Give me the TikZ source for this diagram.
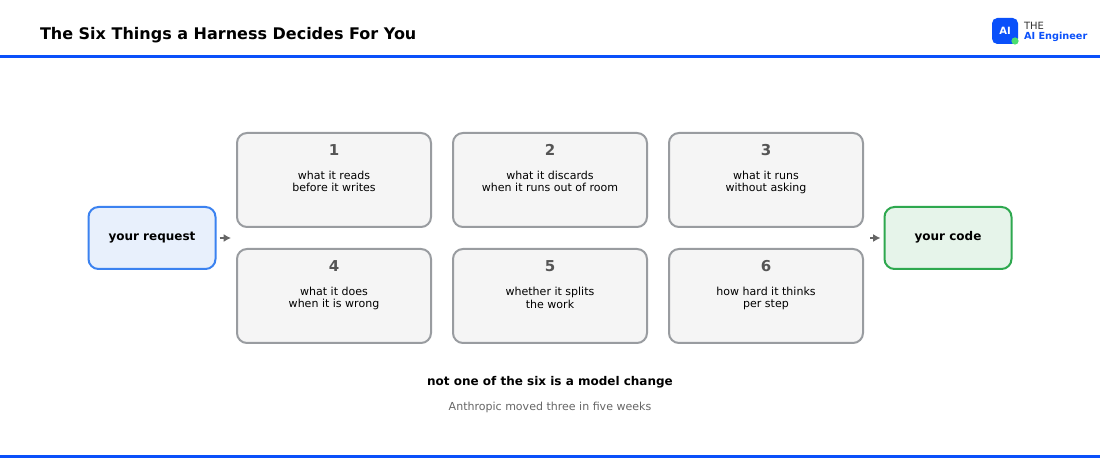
\documentclass[tikz,border=0pt]{standalone}
\usepackage{fontspec}
\setmainfont{DejaVu Sans}
\usetikzlibrary{arrows.meta}
\definecolor{brand}{HTML}{0A50FA}
\definecolor{reqedge}{HTML}{3B82F0}
\definecolor{reqfill}{HTML}{E8F0FC}
\definecolor{codeedge}{HTML}{2EA84F}
\definecolor{codefill}{HTML}{E6F4EA}
\definecolor{boxedge}{HTML}{999CA0}
\definecolor{boxfill}{HTML}{F5F5F5}
\definecolor{numcol}{HTML}{555555}
\definecolor{subcol}{HTML}{666666}
\definecolor{dotgreen}{HTML}{4ADE70}
\tikzset{
  x=0.75pt,y=-0.75pt,
  px/.style={inner sep=0pt,outer sep=0pt},
  card/.style={px,draw=boxedge,fill=boxfill,line width=1.5pt,rounded corners=7.5pt,minimum width=145.5pt,minimum height=70.5pt},
  endbox/.style={px,line width=1.5pt,rounded corners=7.5pt,minimum width=95.25pt,minimum height=46.5pt},
  numlabel/.style={px,anchor=base,text=numcol,font=\bfseries\fontsize{11.25}{13}\selectfont},
  linelabel/.style={px,anchor=base,text=black,font=\fontsize{8.27}{10}\selectfont},
  boldlabel/.style={px,anchor=base,text=black,font=\bfseries\fontsize{9}{11}\selectfont},
  flow/.style={draw=subcol,line width=1.5pt,-{Latex[length=5.5pt,width=6pt]}},
  rulebar/.style={draw=none,fill=brand}
}
\begin{document}
\begin{tikzpicture}
\useasboundingbox (0,0) rectangle (1100,470);
\fill[white] (0,0) rectangle (1100,470);
\fill[rulebar] (0,55) rectangle (1100,58);
\fill[rulebar] (0,455) rectangle (1100,458);
\node[px,anchor=base west,font=\bfseries\fontsize{12}{15}\selectfont] (title) at (40,39.7) {The Six Things a Harness Decides For You};
\node[px,fill=brand,rounded corners=4pt,minimum width=19.5pt,minimum height=19.5pt,text=white,font=\bfseries\fontsize{7.5}{9}\selectfont] (logo) at (1005,31) {AI};
\fill[dotgreen] (1015,41) circle (3.6);
\node[px,anchor=base west,text=black!80,font=\fontsize{7.5}{10}\selectfont] (the) at (1024,30) {THE};
\node[px,anchor=base west,text=brand,font=\bfseries\fontsize{7.3}{10}\selectfont] (brandname) at (1024,40) {AI Engineer};

\node[endbox,draw=reqedge,fill=reqfill] (req) at (152,238) {};
\node[boldlabel] (reqt) at (152,240.5) {your request};
\node[endbox,draw=codeedge,fill=codefill] (code) at (948,238) {};
\node[boldlabel] (codet) at (948,240.5) {your code};
\coordinate (inend) at (231,238);
\coordinate (outstart) at (870,238);
\draw[flow,shorten <=3pt] (req.east) -- (inend);
\draw[flow,shorten >=3pt] (outstart) -- (code.west);

\node[card] (c1) at (334,180) {};
\node[card] (c2) at (550,180) {};
\node[card] (c3) at (766,180) {};
\node[card] (c4) at (334,296) {};
\node[card] (c5) at (550,296) {};
\node[card] (c6) at (766,296) {};

\node[numlabel] (n1) at (334,155.5) {1};
\node[numlabel] (n2) at (550,155.5) {2};
\node[numlabel] (n3) at (766,155.5) {3};
\node[numlabel] (n4) at (334,271.5) {4};
\node[numlabel] (n5) at (550,271.5) {5};
\node[numlabel] (n6) at (766,271.5) {6};

\node[linelabel] (t1a) at (334,179.8) {what it reads};
\node[linelabel] (t1b) at (334,191.8) {before it writes};
\node[linelabel] (t2a) at (550,179.8) {what it discards};
\node[linelabel] (t2b) at (550,191.8) {when it runs out of room};
\node[linelabel] (t3a) at (766,179.8) {what it runs};
\node[linelabel] (t3b) at (766,191.8) {without asking};
\node[linelabel] (t4a) at (334,295.8) {what it does};
\node[linelabel] (t4b) at (334,307.8) {when it is wrong};
\node[linelabel] (t5a) at (550,295.8) {whether it splits};
\node[linelabel] (t5b) at (550,308.8) {the work};
\node[linelabel] (t6a) at (766,295.8) {how hard it thinks};
\node[linelabel] (t6b) at (766,307.8) {per step};

\node[boldlabel] (foot) at (550,386) {not one of the six is a model change};
\node[px,anchor=base,text=subcol,font=\fontsize{8.27}{11}\selectfont] (sub) at (550,411) {Anthropic moved three in five weeks};
\end{tikzpicture}
\end{document}
